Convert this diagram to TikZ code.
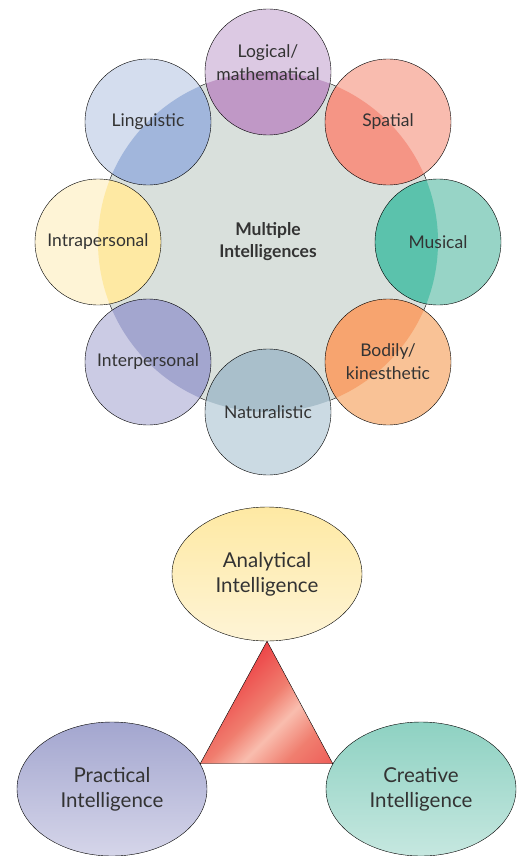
\documentclass[tikz,border=0pt]{standalone}
\usepackage{fontspec}
\setmainfont{Lato}
\usetikzlibrary{shapes.geometric,positioning,calc}

\definecolor{ringgray}{HTML}{D9E0DC}
\definecolor{logicL}{HTML}{DCC9E3}\definecolor{logicD}{HTML}{C098C6}
\definecolor{spatL}{HTML}{F9BCAF}\definecolor{spatD}{HTML}{F59585}
\definecolor{musL}{HTML}{97D4C6}\definecolor{musD}{HTML}{5BC2AC}
\definecolor{bodyL}{HTML}{F9C296}\definecolor{bodyD}{HTML}{F7A46F}
\definecolor{natL}{HTML}{CBDAE3}\definecolor{natD}{HTML}{A9BFCB}
\definecolor{interL}{HTML}{CBCBE4}\definecolor{interD}{HTML}{A3A6CF}
\definecolor{intraL}{HTML}{FEF4D6}\definecolor{intraD}{HTML}{FEE9A3}
\definecolor{lingL}{HTML}{D4DDEE}\definecolor{lingD}{HTML}{A1B6DC}
\definecolor{txt}{HTML}{333333}
\definecolor{triR}{HTML}{EC3A40}
\definecolor{triC}{HTML}{F07E6F}
\definecolor{triP}{HTML}{F9BDAE}

\pgfdeclarehorizontalshading{trishade}{100bp}{color(0bp)=(triR); color(30bp)=(triR); color(50bp)=(triC); color(60bp)=(triP); color(72bp)=(triC); color(100bp)=(triR)}

\begin{document}
\begin{tikzpicture}[x=1pt, y=1pt,
    intel/.style={circle, draw, thin, minimum size=126pt, inner sep=0pt, align=center,
        text=txt, font=\fontsize{17.5}{23}\selectfont},
    core/.style={circle, draw, thin, minimum size=340pt, fill=ringgray, align=center,
        text=txt, font=\fontsize{17.5}{22}\selectfont\bfseries},
    tribox/.style={ellipse, draw, thin, minimum width=190pt, minimum height=134pt, inner sep=0pt,
        align=center, text=txt, font=\fontsize{20.5}{25}\selectfont},
    overlap/.style={path picture={\fill[#1] (mi.center) circle (170pt);}}
]
\useasboundingbox (0,0) rectangle (517,-856);

% multiple intelligences wheel
\node[core] (mi) at (268,-242) {Multiple\\Intelligences};
\node[intel, fill=logicL, overlap=logicD] (logic) at (268,-72) {Logical/\\mathematical\\[-5pt]};
\node[intel, fill=spatL, overlap=spatD] (spat) at (388,-122) {Spatial};
\node[intel, fill=musL, overlap=musD] (mus) at (438,-242) {Musical};
\node[intel, fill=bodyL, overlap=bodyD] (body) at (388,-362) {Bodily/\\kinesthetic};
\node[intel, fill=natL, overlap=natD] (nat) at (268,-412) {Naturalistic};
\node[intel, fill=interL, overlap=interD] (inter) at (148,-362) {Interpersonal};
\node[intel, fill=intraL, overlap=intraD] (intra) at (98,-242) {Intrapersonal};
\node[intel, fill=lingL, overlap=lingD] (ling) at (148,-122) {Linguistic};

% triarchic theory
\node[tribox, top color=intraD, bottom color=intraL] (ana) at (267,-574) {Analytical\\Intelligence};
\node[tribox, top color=interD, bottom color=interL!80!white] (prac) at (112,-789) {Practical\\Intelligence};
\node[tribox, top color=musL!85!musD, bottom color=musL!55!white] (crea) at (421,-789) {Creative\\Intelligence};

\coordinate (tl) at (prac.16);
\coordinate (tr) at (crea.164);
\shade[shading=trishade, shading angle=-45] (ana.south) -- (tr) -- (tl) -- cycle;
\draw[thin] (ana.south) -- (tr) -- (tl) -- cycle;
\end{tikzpicture}
\end{document}
